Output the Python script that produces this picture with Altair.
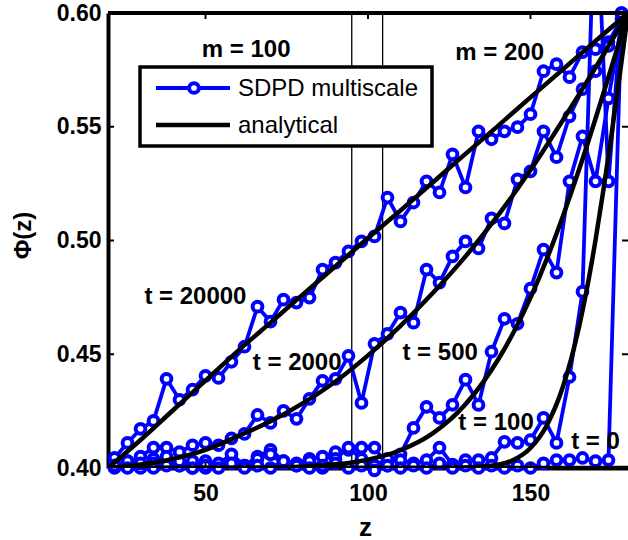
import altair as alt
import pandas as pd

# ---------------- data ----------------
Z = [22, 26, 30, 34, 38, 42, 46, 50, 54, 58, 62, 66, 70, 74, 78, 82, 86, 90, 94, 98,
     102, 106, 110, 114, 118, 122, 126, 130, 134, 138, 142, 146, 150, 154, 158, 162,
     166, 170, 174, 178]

SDPD_T20000 = [0.4044, 0.4110, 0.4172, 0.4207, 0.4392, 0.4300, 0.4344, 0.4405, 0.4396, 0.4467,
               0.4533, 0.4709, 0.4643, 0.4740, 0.4727, 0.4749, 0.4872, 0.4903, 0.4952, 0.4996,
               0.5018, 0.5189, 0.5084, 0.5167, 0.5260, 0.5211, 0.5379, 0.5233, 0.5480, 0.5445,
               0.5480, 0.5498, 0.5555, 0.5744, 0.5775, 0.5718, 0.5828, 0.5841, 0.5872, 0.5974]
SDPD_T2000 = [0.4010, 0.4020, 0.4050, 0.4090, 0.4090, 0.4070, 0.4100, 0.4110, 0.4100, 0.4130,
              0.4150, 0.4233, 0.4198, 0.4251, 0.4216, 0.4304, 0.4383, 0.4392, 0.4493, 0.4286,
              0.4546, 0.4590, 0.4683, 0.4639, 0.4872, 0.4815, 0.4930, 0.4996, 0.4965, 0.5097,
              0.5075, 0.5269, 0.5304, 0.5480, 0.5366, 0.5546, 0.5665, 0.5744, 0.5855, 0.5950]
SDPD_T500 = [0.4010, 0.4030, 0.4010, 0.4040, 0.4020, 0.4010, 0.4000, 0.4030, 0.4010, 0.4040,
             0.4010, 0.4050, 0.4080, 0.4030, 0.4020, 0.4040, 0.4050, 0.4070, 0.4080, 0.4090,
             0.4090, 0.4010, 0.4060, 0.4176, 0.4269, 0.4220, 0.4278, 0.4388, 0.4277, 0.4511,
             0.4656, 0.4634, 0.4788, 0.4960, 0.4859, 0.5260, 0.5458, 0.5260, 0.5625, 0.5950]
SDPD_T100 = [0.4000, 0.4030, 0.4000, 0.4020, 0.4050, 0.4010, 0.4030, 0.4000, 0.4020, 0.4060,
             0.4010, 0.4040, 0.4060, 0.4020, 0.4010, 0.4030, 0.4000, 0.4040, 0.4090, 0.4040,
             0.4010, 0.4040, 0.4035, 0.4020, 0.4035, 0.4090, 0.4015, 0.4035, 0.4035, 0.4044,
             0.4115, 0.4110, 0.4123, 0.4220, 0.4110, 0.4400, 0.4775, 0.6600, 0.5260, 0.6000]
SDPD_T0 = [0.4010, 0.4000, 0.4020, 0.4000, 0.4010, 0.4030, 0.4000, 0.4010, 0.4000, 0.4020,
           0.4000, 0.4010, 0.4000, 0.4030, 0.4010, 0.4000, 0.4010, 0.4020, 0.4000, 0.4010,
           0.3990, 0.4010, 0.4000, 0.4010, 0.4000, 0.4020, 0.4000, 0.4010, 0.4000, 0.4010,
           0.4000, 0.4010, 0.4000, 0.4020, 0.4035, 0.4035, 0.4044, 0.4030, 0.4035, 0.6000]

AN_Z_20000 = [20, 30, 40, 50, 60, 70, 80, 90, 100, 110, 120, 130, 140, 150, 160, 170, 180]
AN_T20000 = [0.4000, 0.4123, 0.4254, 0.4384, 0.4515, 0.4639, 0.4763, 0.4887, 0.5011, 0.5132,
             0.5256, 0.5381, 0.5504, 0.5629, 0.5753, 0.5877, 0.6000]
AN_Z_2000 = [20, 30, 40, 50, 60, 70, 80, 90, 100, 110, 120, 130, 140, 150, 160, 170, 180]
AN_T2000 = [0.4000, 0.4015, 0.4040, 0.4080, 0.4140, 0.4205, 0.4285, 0.4380, 0.4495, 0.4625,
            0.4770, 0.4930, 0.5110, 0.5310, 0.5530, 0.5760, 0.6000]
AN_Z_500 = [20, 60, 70, 80, 90, 100, 110, 120, 130, 140, 145, 150, 155, 160, 165, 170, 175, 180]
AN_T500 = [0.4000, 0.4001, 0.4002, 0.4007, 0.4016, 0.4037, 0.4078, 0.4153, 0.4280, 0.4476,
           0.4602, 0.4749, 0.4918, 0.5108, 0.5314, 0.5535, 0.5765, 0.6000]
AN_Z_100 = [20, 120, 130, 140, 145, 150, 155, 160, 165, 167.5, 170, 172.5, 175, 177.5, 180]
AN_T100 = [0.4000, 0.4000, 0.4002, 0.4014, 0.4037, 0.4088, 0.4187, 0.4358, 0.4624, 0.4798,
           0.5002, 0.5228, 0.5472, 0.5732, 0.6000]
AN_Z_0 = [20, 180]
AN_T0 = [0.4000, 0.4000]

BOUNDARIES = [95, 104.5]

LABELS = ["m = 100", "m = 200", "t = 20000", "t = 2000", "t = 500", "t = 100", "t = 0"]
LABEL_Z = [62.5, 140.5, 46.9, 78.2, 122.2, 139.4, 170.0]
LABEL_PHI = [0.5837, 0.5824, 0.4752, 0.4462, 0.4506, 0.4198, 0.4114]

X_TICKS = [50, 100, 150]
Y_TICKS = [0.40, 0.45, 0.50, 0.55, 0.60]
Y_INNER_TICKS = [0.45, 0.50, 0.55]

# ---------------- tables ----------------
sdpd_rows = []
for name, vals in [("t20000", SDPD_T20000), ("t2000", SDPD_T2000), ("t500", SDPD_T500),
                   ("t100", SDPD_T100), ("t0", SDPD_T0)]:
    for z, p in zip(Z, vals):
        sdpd_rows.append({"z": z, "phi": p, "series": name})
sdpd = pd.DataFrame(sdpd_rows)

an_rows = []
for name, zs, vals in [("t20000", AN_Z_20000, AN_T20000), ("t2000", AN_Z_2000, AN_T2000),
                       ("t500", AN_Z_500, AN_T500), ("t100", AN_Z_100, AN_T100),
                       ("t0", AN_Z_0, AN_T0)]:
    for z, p in zip(zs, vals):
        an_rows.append({"z": z, "phi": p, "series": name})
an = pd.DataFrame(an_rows)

bounds = pd.DataFrame({"z": BOUNDARIES})
labels = pd.DataFrame({"label": LABELS, "z": LABEL_Z, "phi": LABEL_PHI})
xt = pd.DataFrame({"z": X_TICKS})
yt = pd.DataFrame({"phi": Y_INNER_TICKS})
one = pd.DataFrame({"a": [0]})

FONT = "Liberation Sans"
BLUE = "#0000FF"
W, H = 520, 455
PT_SIZE = 95
PT_STROKE = 4

xaxis = alt.Axis(values=X_TICKS, tickSize=0, domainWidth=4, domainColor="black",
                 labelFont=FONT, labelFontSize=23, labelFontWeight="bold", labelColor="black",
                 labelPadding=25, labelBaseline="middle", labelFlush=False, labelOverlap=False,
                 title="z", titleFont=FONT, titleFontSize=26, titleFontWeight="bold",
                 titleColor="black", titleY=59, titleX=257, titleBaseline="middle", grid=False)
yaxis = alt.Axis(values=Y_TICKS, format=".2f", tickSize=0, domainWidth=4, domainColor="black",
                 labelFont=FONT, labelFontSize=23, labelFontWeight="bold", labelColor="black",
                 labelPadding=7, labelFlush=False, labelOverlap=False,
                 title="Φ(z)", titleFont=FONT, titleFontSize=24, titleFontWeight="bold",
                 titleColor="black", titleX=-85, titleY=222, titleAngle=-90,
                 titleAlign="center", titleBaseline="middle", grid=False)

X = alt.X("z:Q", scale=alt.Scale(domain=[20, 180], nice=False, zero=False), axis=xaxis)
Y = alt.Y("phi:Q", scale=alt.Scale(domain=[0.40, 0.60], nice=False, zero=False), axis=yaxis)

vlines = alt.Chart(bounds).mark_rule(color="black", strokeWidth=1.3).encode(x=X)

blue_lines = alt.Chart(sdpd).mark_line(color=BLUE, strokeWidth=3.8, clip=True).encode(
    x=X, y=Y, detail="series:N", order="z:Q")
blue_pts = alt.Chart(sdpd).transform_filter(alt.datum.phi <= 0.601).mark_point(
    shape="circle", filled=True, fill="white", stroke=BLUE, strokeWidth=PT_STROKE,
    size=PT_SIZE, opacity=1).encode(x=X, y=Y)

black_lines = alt.Chart(an).mark_line(color="black", strokeWidth=4.5, clip=True,
                                      interpolate="monotone").encode(
    x=X, y=Y, detail="series:N", order="z:Q")

texts = alt.Chart(labels).mark_text(font=FONT, fontSize=24, fontWeight="bold", color="black",
                                    align="center", baseline="middle").encode(
    x=X, y=Y, text="label:N")

top_border = alt.Chart(one).mark_rule(color="black", strokeWidth=4).encode(
    x=alt.value(0), x2=alt.value(W), y=alt.value(0))
left_ticks = alt.Chart(yt).mark_rule(color="black", strokeWidth=2).encode(
    y=Y, x=alt.value(0), x2=alt.value(6))
right_ticks = alt.Chart(yt).mark_rule(color="black", strokeWidth=2).encode(
    y=Y, x=alt.value(W - 6), x2=alt.value(W))
top_ticks = alt.Chart(xt).mark_rule(color="black", strokeWidth=2).encode(
    x=X, y=alt.value(0), y2=alt.value(6))
bottom_ticks = alt.Chart(xt).mark_rule(color="black", strokeWidth=2).encode(
    x=X, y=alt.value(H - 6), y2=alt.value(H))

leg_box = alt.Chart(one).mark_rect(fill="white", stroke="black", strokeWidth=3.5).encode(
    x=alt.value(32), x2=alt.value(324), y=alt.value(54), y2=alt.value(133))
leg_l1 = alt.Chart(one).mark_rule(color=BLUE, strokeWidth=3.8).encode(
    x=alt.value(48), x2=alt.value(122), y=alt.value(75))
leg_p1 = alt.Chart(one).mark_point(shape="circle", filled=True, fill="white", stroke=BLUE,
                                   strokeWidth=PT_STROKE, size=PT_SIZE, opacity=1).encode(
    x=alt.value(86), y=alt.value(75))
leg_l2 = alt.Chart(one).mark_rule(color="black", strokeWidth=4.5).encode(
    x=alt.value(48), x2=alt.value(122), y=alt.value(112))
leg_t1 = alt.Chart(one).mark_text(font=FONT, fontSize=24, color="black", align="left",
                                  baseline="middle").encode(
    x=alt.value(130), y=alt.value(76), text=alt.value("SDPD multiscale"))
leg_t2 = alt.Chart(one).mark_text(font=FONT, fontSize=24, color="black", align="left",
                                  baseline="middle").encode(
    x=alt.value(130), y=alt.value(113), text=alt.value("analytical"))

chart = alt.layer(
    vlines, blue_lines, blue_pts, black_lines, texts,
    top_border, left_ticks, right_ticks, top_ticks, bottom_ticks,
    leg_box, leg_l1, leg_p1, leg_l2, leg_t1, leg_t2,
).properties(
    width=W, height=H,
    padding={"left": 108, "top": 13, "right": 0, "bottom": 72},
    autosize=alt.AutoSizeParams(type="none"),
    background="white",
).configure_view(stroke=None)

chart.save("out.html", embed_options={"renderer": "svg", "actions": False})
